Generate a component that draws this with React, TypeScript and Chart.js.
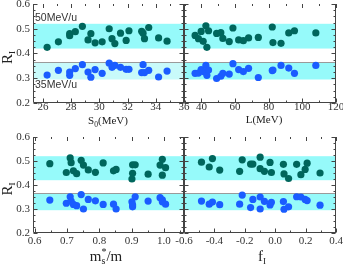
import React, { useEffect, useRef } from "react";
import { Chart, registerables } from "chart.js";

Chart.register(...registerables);

// ---------------- data ----------------
const Y_TICKS = [0.2, 0.3, 0.4, 0.5, 0.6];
const BAND_50MEV = [0.42, 0.52];
const BAND_35MEV = [0.295, 0.365];

const S0_TICKS = [26, 28, 30, 32, 34, 36];
const S0_VALUES = [26.3, 27.1, 27.9, 27.9, 28.3, 28.8, 29.2, 29.4, 29.7, 30.2, 30.7, 30.9, 31.1, 31.5, 31.9, 32.1, 33.0, 33.1, 33.2, 33.5, 34.2, 34.8];
const S0_R50 = [0.425, 0.447, 0.48, 0.472, 0.488, 0.51, 0.455, 0.48, 0.443, 0.447, 0.5, 0.46, 0.44, 0.482, 0.453, 0.492, 0.49, 0.482, 0.46, 0.505, 0.463, 0.45];
const S0_R35 = [0.313, 0.332, 0.325, 0.312, 0.339, 0.355, 0.325, 0.304, 0.335, 0.32, 0.361, 0.344, 0.352, 0.344, 0.336, 0.336, 0.323, 0.355, 0.323, 0.332, 0.305, 0.329];

const L_TICKS = [40, 60, 80, 100, 120];
const L_VALUES = [36.2, 38.2, 39.8, 41.0, 42.6, 43.2, 44.2, 49.0, 51.5, 52.7, 56.5, 58.7, 62.1, 64.9, 68.0, 73.8, 82.1, 82.5, 87.3, 91.9, 95.3, 108.0];
const L_R50 = [0.473, 0.46, 0.489, 0.449, 0.512, 0.425, 0.492, 0.481, 0.484, 0.461, 0.448, 0.503, 0.455, 0.452, 0.463, 0.465, 0.507, 0.444, 0.441, 0.483, 0.492, 0.483];
const L_R35 = [0.32, 0.321, 0.335, 0.327, 0.352, 0.312, 0.333, 0.299, 0.308, 0.32, 0.317, 0.359, 0.335, 0.327, 0.34, 0.303, 0.331, 0.333, 0.352, 0.341, 0.32, 0.352];

const MS_TICKS = [0.6, 0.7, 0.8, 0.9, 1.0];
const MS_VALUES = [0.647, 0.698, 0.71, 0.713, 0.72, 0.73, 0.744, 0.751, 0.766, 0.788, 0.812, 0.844, 0.852, 0.901, 0.903, 0.903, 0.911, 0.951, 0.988, 0.995, 0.995, 1.005];
const MS_R50 = [0.489, 0.452, 0.513, 0.493, 0.459, 0.447, 0.503, 0.483, 0.463, 0.453, 0.492, 0.459, 0.465, 0.425, 0.449, 0.484, 0.484, 0.445, 0.483, 0.507, 0.441, 0.472];
const MS_R35 = [0.337, 0.324, 0.351, 0.333, 0.319, 0.314, 0.36, 0.3, 0.34, 0.334, 0.319, 0.32, 0.3, 0.33, 0.309, 0.317, 0.351, 0.333, 0.347, 0.338, 0.33, 0.32];

const FI_TICKS = [-0.6, -0.4, -0.2, 0.0, 0.2, 0.4];
const FI_VALUES = [-0.485, -0.434, -0.413, -0.365, -0.234, -0.217, -0.162, -0.147, -0.099, -0.099, -0.071, -0.034, -0.025, 0.054, 0.058, 0.088, 0.141, 0.169, 0.197, 0.21, 0.295];
const FI_R50 = [0.495, 0.475, 0.51, 0.462, 0.457, 0.505, 0.487, 0.487, 0.516, 0.468, 0.457, 0.494, 0.452, 0.486, 0.446, 0.427, 0.486, 0.443, 0.465, 0.491, 0.45];
const FI_R35 = [0.333, 0.32, 0.329, 0.318, 0.32, 0.358, 0.306, 0.34, 0.35, 0.3, 0.332, 0.317, 0.328, 0.331, 0.299, 0.309, 0.351, 0.35, 0.34, 0.335, 0.316];

// ---------------- styles ----------------
const TEAL = "#00665c";
const BLUE = "#1a5cff";
const BAND = "#96fafa";
const BAND_PALE = "#c8fafa";
const AXIS = "#444";
const TEXT = "#333";
const SERIF = "'Liberation Serif', 'DejaVu Serif', serif";
const SANS = "'Liberation Sans', Arial, sans-serif";

const M = 20;
const W = 343;
const ROW_H = 134;
const Y_AXIS_W = 33;

type Seg = { t: string; size: number; dy: number; keep?: boolean };

interface PanelCfg {
  rowTop: number;
  L: number; R: number; T: number; B: number;
  xMin: number; xMax: number; xTicks: number[]; xMinor: number; decimals: number;
  xs: number[]; r50: number[]; r35: number[];
  showY: boolean; lowBand: string;
  title: Seg[]; titleX: number; titleY: number;
  energyLabels: boolean; xPad: number;
}

function segWidth(ctx: CanvasRenderingContext2D, segs: Seg[]) {
  let w = 0, pending = 0;
  for (const s of segs) {
    ctx.font = `${s.size}px ${SERIF}`;
    const sw = ctx.measureText(s.t).width;
    if (s.keep) pending = Math.max(pending, sw);
    else { w += Math.max(pending, sw); pending = 0; }
  }
  return w;
}

function drawSegs(ctx: CanvasRenderingContext2D, segs: Seg[], cx: number, baseY: number) {
  const total = segWidth(ctx, segs);
  let x = cx - total / 2, pending = 0;
  ctx.textAlign = "left";
  ctx.textBaseline = "alphabetic";
  for (const s of segs) {
    ctx.font = `${s.size}px ${SERIF}`;
    const sw = ctx.measureText(s.t).width;
    ctx.fillText(s.t, x, baseY + s.dy);
    if (s.keep) pending = Math.max(pending, sw);
    else { x += Math.max(pending, sw); pending = 0; }
  }
}

function minorTicks(min: number, max: number, step: number, majors: number[]) {
  const out: number[] = [];
  for (let k = Math.ceil(min / step - 1e-9); k * step <= max + 1e-9; k++) {
    const v = k * step;
    if (!majors.some((m) => Math.abs(m - v) < 1e-9)) out.push(v);
  }
  return out;
}

function makePlugin(cfg: PanelCfg) {
  return {
    id: "frame",
    beforeDatasetsDraw(chart: any) {
      const { ctx, chartArea: a, scales } = chart;
      const y = scales.y;
      const w = a.right - a.left;
      ctx.save();
      const u1 = y.getPixelForValue(BAND_50MEV[1]);
      const u0 = y.getPixelForValue(BAND_50MEV[0]);
      ctx.fillStyle = BAND;
      ctx.fillRect(a.left, u1, w, u0 - u1);
      const l1 = y.getPixelForValue(BAND_35MEV[1]);
      const l0 = y.getPixelForValue(BAND_35MEV[0]);
      ctx.fillStyle = cfg.lowBand;
      ctx.fillRect(a.left, l1, w, l0 - l1);
      ctx.strokeStyle = "#9a9a9a";
      ctx.lineWidth = 1;
      ctx.beginPath();
      ctx.moveTo(a.left, Math.round(l1) + 0.5);
      ctx.lineTo(a.right, Math.round(l1) + 0.5);
      ctx.stroke();
      if (cfg.energyLabels) {
        ctx.fillStyle = TEXT;
        ctx.font = `10.5px ${SANS}`;
        ctx.textAlign = "left";
        ctx.textBaseline = "middle";
        ctx.fillText("50MeV/u", a.left + 2, y.getPixelForValue(0.544));
        ctx.fillText("35MeV/u", a.left + 2, y.getPixelForValue(0.272));
      }
      ctx.restore();
    },
    afterDraw(chart: any) {
      const { ctx, chartArea: a, scales } = chart;
      const x = scales.x, y = scales.y;
      const L = Math.round(a.left) + 0.5, R = Math.round(a.right) - 0.5;
      const T = Math.round(a.top), B = Math.round(a.bottom) - 0.5;
      ctx.save();
      ctx.strokeStyle = AXIS;
      ctx.lineWidth = 1;
      ctx.beginPath();
      ctx.moveTo(L, T); ctx.lineTo(L, B); ctx.lineTo(R + 0.5, B);
      ctx.moveTo(R, T); ctx.lineTo(R, B);
      const xt = (v: number, len: number) => {
        const px = Math.round(x.getPixelForValue(v)) + 0.5;
        ctx.moveTo(px, B); ctx.lineTo(px, B - len);
        ctx.moveTo(px, T); ctx.lineTo(px, T + len);
      };
      cfg.xTicks.forEach((v) => xt(v, 4));
      minorTicks(cfg.xMin, cfg.xMax, cfg.xMinor, cfg.xTicks).forEach((v) => xt(v, 2));
      const yt = (v: number, len: number) => {
        const py = Math.round(y.getPixelForValue(v)) + 0.5;
        ctx.moveTo(L, py); ctx.lineTo(L + len, py);
        ctx.moveTo(R, py); ctx.lineTo(R - len, py);
      };
      Y_TICKS.forEach((v) => yt(v, 4));
      minorTicks(0.2, 0.6, 0.025, Y_TICKS).forEach((v) => yt(v, 2));
      ctx.stroke();

      ctx.fillStyle = "#222";
      drawSegs(ctx, cfg.title, cfg.titleX + M, cfg.titleY - cfg.rowTop + M);

      if (cfg.showY) {
        ctx.save();
        ctx.translate(M + 12, (a.top + a.bottom) / 2 + 4);
        ctx.rotate(-Math.PI / 2);
        drawSegs(ctx, [
          { t: "R", size: 15, dy: 0 },
          { t: "I", size: 9, dy: 3 },
        ], 0, 0);
        ctx.restore();
      }
      ctx.restore();
    },
  };
}

const PANELS: PanelCfg[] = [
  {
    rowTop: 0, L: 33, R: 184, T: 4, B: 103,
    xMin: 25.3, xMax: 36, xTicks: S0_TICKS, xMinor: 1, decimals: 0,
    xs: S0_VALUES, r50: S0_R50, r35: S0_R35,
    showY: true, lowBand: BAND_PALE,
    title: [
      { t: "S", size: 11, dy: 0 },
      { t: "0", size: 7.5, dy: 2.5 },
      { t: "(MeV)", size: 11, dy: 0 },
    ],
    titleX: 108, titleY: 124, energyLabels: true, xPad: -2,
  },
  {
    rowTop: 0, L: 184, R: 336, T: 4, B: 103,
    xMin: 29.6, xMax: 120, xTicks: L_TICKS, xMinor: 10, decimals: 0,
    xs: L_VALUES, r50: L_R50, r35: L_R35,
    showY: false, lowBand: BAND,
    title: [{ t: "L(MeV)", size: 11, dy: 0 }],
    titleX: 264, titleY: 123, energyLabels: false, xPad: -2,
  },
  {
    rowTop: 134, L: 33, R: 184, T: 137, B: 233,
    xMin: 0.595, xMax: 1.062, xTicks: MS_TICKS, xMinor: 0.05, decimals: 1,
    xs: MS_VALUES, r50: MS_R50, r35: MS_R35,
    showY: true, lowBand: BAND,
    title: [
      { t: "m", size: 15, dy: 0 },
      { t: "*", size: 10, dy: -6, keep: true },
      { t: "s", size: 10, dy: 3 },
      { t: "/m", size: 15, dy: 0 },
    ],
    titleX: 106, titleY: 261, energyLabels: false, xPad: 2,
  },
  {
    rowTop: 134, L: 184, R: 336, T: 137, B: 233,
    xMin: -0.6, xMax: 0.4, xTicks: FI_TICKS, xMinor: 0.1, decimals: 1,
    xs: FI_VALUES, r50: FI_R50, r35: FI_R35,
    showY: false, lowBand: BAND,
    title: [
      { t: "f", size: 15, dy: 0 },
      { t: "I", size: 9, dy: 3 },
    ],
    titleX: 262, titleY: 261, energyLabels: false, xPad: 2,
  },
];

function Panel({ cfg }: { cfg: PanelCfg }) {
  const ref = useRef<HTMLCanvasElement>(null);
  useEffect(() => {
    const canvas = ref.current!;
    const yW = cfg.showY ? Y_AXIS_W : 0;
    const padLeft = cfg.L + M - yW;
    const padRight = W + M - cfg.R;
    const padTop = cfg.T - cfg.rowTop + M;
    const xHeight = ROW_H + M - (cfg.B - cfg.rowTop);
    const tickFont = { family: SERIF, size: 11 };
    const chart = new Chart(canvas, {
      type: "scatter",
      data: {
        datasets: [
          {
            data: cfg.xs.map((v, i) => ({ x: v, y: cfg.r50[i] })),
            backgroundColor: TEAL, borderWidth: 0, pointRadius: 3.6,
          },
          {
            data: cfg.xs.map((v, i) => ({ x: v, y: cfg.r35[i] })),
            backgroundColor: BLUE, borderWidth: 0, pointRadius: 3.6,
          },
        ],
      },
      options: {
        responsive: false,
        animation: false,
        layout: { padding: { left: padLeft, right: padRight, top: padTop, bottom: 0 } },
        plugins: { legend: { display: false }, tooltip: { enabled: false } },
        scales: {
          x: {
            type: "linear", min: cfg.xMin, max: cfg.xMax,
            afterFit: (s: any) => { s.height = xHeight; },
            afterBuildTicks: (s: any) => { s.ticks = cfg.xTicks.map((v) => ({ value: v })); },
            grid: { display: false, drawTicks: false },
            border: { display: false },
            ticks: {
              autoSkip: false, maxRotation: 0, padding: cfg.xPad, font: tickFont, color: TEXT,
              callback: (v: any) => Number(v).toFixed(cfg.decimals),
            },
          },
          y: {
            type: "linear", min: 0.2, max: 0.6, display: cfg.showY,
            afterFit: (s: any) => { s.width = yW; },
            afterBuildTicks: (s: any) => { s.ticks = Y_TICKS.map((v) => ({ value: v })); },
            grid: { display: false, drawTicks: false },
            border: { display: false },
            ticks: {
              padding: 3, font: tickFont, color: TEXT,
              callback: (v: any) => Number(v).toFixed(1),
            },
          },
        },
      } as any,
      plugins: [makePlugin(cfg)],
    });
    return () => chart.destroy();
  }, [cfg]);
  return (
    <canvas
      ref={ref}
      width={W + 2 * M}
      height={ROW_H + 2 * M}
      style={{ position: "absolute", left: -M, top: cfg.rowTop - M, width: W + 2 * M, height: ROW_H + 2 * M }}
    />
  );
}

export default function App() {
  return (
    <div style={{ position: "fixed", left: 0, top: 0, width: W, height: 268, overflow: "hidden", background: "#fff" }}>
      {PANELS.map((p, i) => (
        <Panel key={i} cfg={p} />
      ))}
    </div>
  );
}
